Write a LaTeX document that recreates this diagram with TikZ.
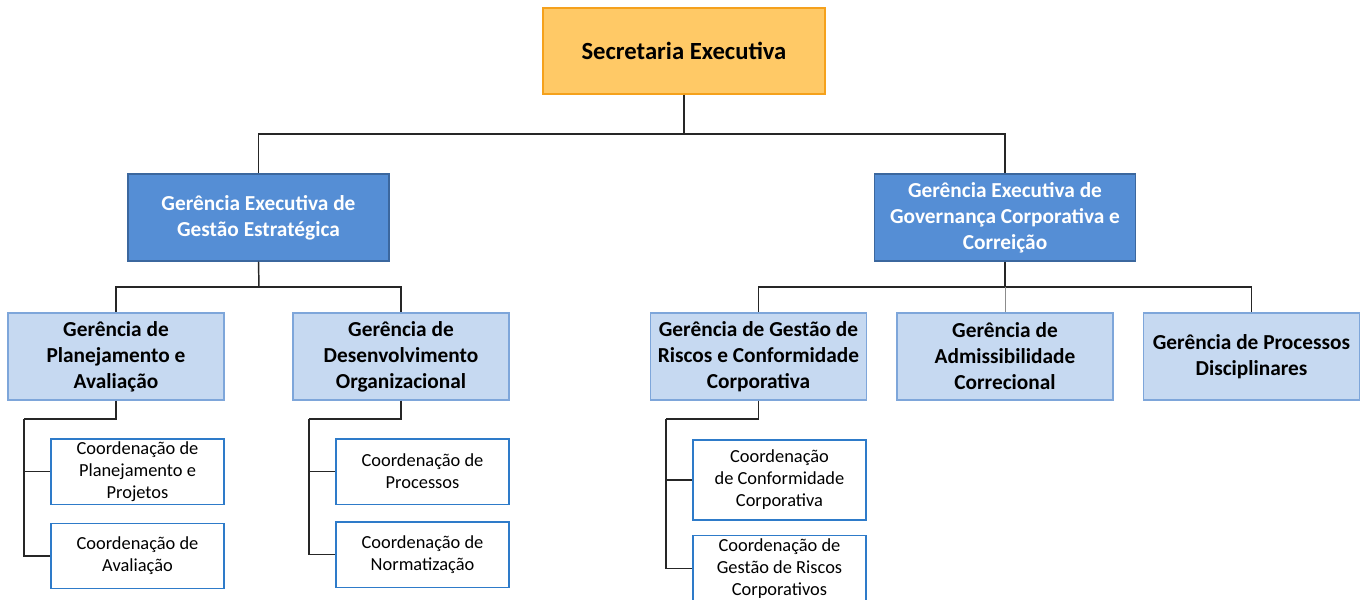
\documentclass[tikz,border=0pt]{standalone}
\usepackage{fontspec}
\setmainfont{Carlito}
\usetikzlibrary{positioning}

\definecolor{secfill}{HTML}{FFC966}
\definecolor{secline}{HTML}{F5A11C}
\definecolor{gefill}{HTML}{558ED5}
\definecolor{geline}{HTML}{3B679E}
\definecolor{gfill}{HTML}{C6D9F1}
\definecolor{gline}{HTML}{7EA6DA}
\definecolor{cline}{HTML}{2E7BC9}

\tikzset{
  secbox/.style={draw=secline,fill=secfill,line width=1pt,inner sep=0pt,
    minimum width=211.5pt,minimum height=64.5pt,align=center,
    font=\fontsize{18.5}{22}\selectfont\bfseries},
  gebox/.style={draw=geline,fill=gefill,line width=1pt,inner sep=0pt,text=white,
    minimum width=195.75pt,minimum height=65.25pt,align=center,
    font=\fontsize{16}{19.5}\selectfont\bfseries},
  gbox/.style={draw=gline,fill=gfill,line width=1pt,inner sep=0pt,
    minimum width=162pt,minimum height=65.25pt,align=center,
    font=\fontsize{16}{19.5}\selectfont\bfseries},
  cbox/.style={draw=cline,fill=white,line width=1pt,inner sep=0pt,
    minimum width=129.75pt,minimum height=49pt,align=center,
    font=\fontsize{13.8}{16.5}\selectfont},
  link/.style={line width=1.1pt,black!85}
}

\begin{document}
\begin{tikzpicture}[x=0.75pt,y=-0.75pt]
  \useasboundingbox (0,0) rectangle (1368,600);
  \clip (0,0) rectangle (1368,600);
  \fill[white] (0,0) rectangle (1368,600);

  % top
  \node[secbox] (sec) at (684,51) {Secretaria Executiva};

  % executive managements
  \node[gebox] (ge1) at (258.5,217.5) {Gerência Executiva de\\Gestão Estratégica};
  \node[gebox] (ge2) at (1005,217.5) {Gerência Executiva de\\Governança Corporativa e\\Correição};

  % managements
  \node[gbox] (g1) at (116,356.5) {Gerência de\\Planejamento e\\Avaliação};
  \node[gbox] (g2) at (401,356.5) {Gerência de\\Desenvolvimento\\Organizacional};
  \node[gbox] (g3) at (758.5,356.5) {Gerência de Gestão de\\Riscos e Conformidade\\Corporativa};
  \node[gbox] (g4) at (1005,356.5) {Gerência de\\Admissibilidade\\Correcional};
  \node[gbox] (g5) at (1251.5,356.5) {Gerência de Processos\\Disciplinares};

  % coordinations
  \node[cbox] (c1) at (137.5,471.5) {Coordenação de\\Planejamento e\\Projetos};
  \node[cbox] (c2) at (137.5,556) {Coordenação de\\Avaliação};
  \node[cbox] (c3) at (422.5,471.5) {Coordenação de\\Processos};
  \node[cbox] (c4) at (422.5,554.5) {Coordenação de\\Normatização};
  \node[cbox,minimum height=60pt] (c5) at (779.5,480) {Coordenação\\de Conformidade\\Corporativa};
  \node[cbox,minimum height=50pt] (c6) at (779.5,568.5) {Coordenação de\\Gestão de Riscos\\Corporativos};

  % connectors
  \coordinate (bus0) at (684,134);
  \draw[link] (sec.south) -- (bus0);
  \draw[link] (bus0) -| (ge1.north);
  \draw[link] (bus0) -| (ge2.north);

  \coordinate (bus1) at (259,287);
  \draw[link] (ge1.south) -- (bus1);
  \draw[link] (bus1) -| (g1.north);
  \draw[link] (bus1) -| (g2.north);

  \coordinate (bus2) at (1005,287);
  \draw[link] (ge2.south) -- (bus2);
  \draw[link] (bus2) -| (g3.north);
  \draw[link] (bus2) -| (g5.north);
  \draw[black!45,line width=0.6pt] (bus2) -- (g4.north);

  \coordinate (t1) at (24,419);
  \draw[link] (g1.south) |- (t1);
  \draw[link] (t1) |- (c1.west);
  \draw[link] (t1) |- (c2.west);

  \coordinate (t2) at (309,419);
  \draw[link] (g2.south) |- (t2);
  \draw[link] (t2) |- (c3.west);
  \draw[link] (t2) |- (c4.west);

  \coordinate (t3) at (666,419);
  \draw[link] (g3.south) |- (t3);
  \draw[link] (t3) |- (c5.west);
  \draw[link] (t3) |- (c6.west);
\end{tikzpicture}
\end{document}
